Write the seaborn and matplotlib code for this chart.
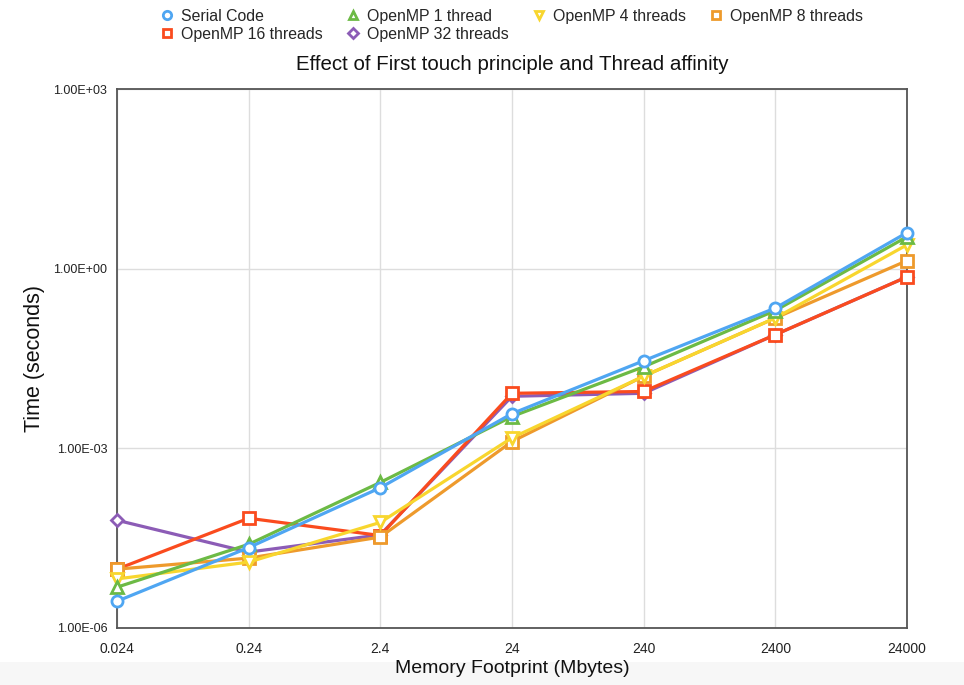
import numpy as np
import pandas as pd
import matplotlib
matplotlib.use("Agg")
import matplotlib.pyplot as plt
from matplotlib.lines import Line2D
from matplotlib.patches import Rectangle
from matplotlib.ticker import FixedLocator, FixedFormatter, NullLocator
import seaborn as sns

# Memory footprint (Mbytes) on the x axis
footprint = [0.024, 0.24, 2.4, 24, 240, 2400, 24000]
footprint_labels = ["0.024", "0.24", "2.4", "24", "240", "2400", "24000"]

# Run time (seconds) per configuration
serial_code = [2.8e-6, 2.2e-5, 2.2e-4, 3.8e-3, 0.029, 0.22, 4.0]
omp_1_thread = [4.8e-6, 2.5e-5, 2.7e-4, 3.4e-3, 0.023, 0.20, 3.4]
omp_4_threads = [6.6e-6, 1.26e-5, 5.8e-5, 1.5e-3, 0.016, 0.15, 2.5]
omp_8_threads = [9.6e-6, 1.47e-5, 3.3e-5, 1.3e-3, 0.016, 0.15, 1.36]
omp_16_threads = [9.6e-6, 6.8e-5, 3.5e-5, 8.3e-3, 8.9e-3, 0.079, 0.73]
omp_32_threads = [6.3e-5, 1.85e-5, 3.6e-5, 7.4e-3, 8.3e-3, 0.079, 0.73]

series_names = ["Serial Code", "OpenMP 1 thread", "OpenMP 4 threads",
                "OpenMP 8 threads", "OpenMP 16 threads", "OpenMP 32 threads"]
series_values = [serial_code, omp_1_thread, omp_4_threads,
                 omp_8_threads, omp_16_threads, omp_32_threads]
colors = ["#4FA6F2", "#6CBA45", "#F8D62E", "#EE9A2C", "#FA4B1E", "#8C5CB6"]
markers = ["o", "^", "v", "s", "s", "D"]
marker_sizes = [8, 8, 8, 8, 8, 6.5]

sns.set_theme(style="white")
plt.rcParams["font.family"] = ["Liberation Sans", "DejaVu Sans"]

fig = plt.figure(figsize=(9.64, 6.85), dpi=100)
W, H = 964, 685
# light strip along the bottom of the figure
fig.patches.append(Rectangle((0, 0), 1, 23 / H, transform=fig.transFigure,
                             facecolor="#F7F7F7", edgecolor="none", zorder=-5))

ax = fig.add_axes([117 / W, (H - 628) / H, (907 - 117) / W, (628 - 89) / H])
ax.set_facecolor("white")

rows = []
for name, vals in zip(series_names, series_values):
    for x, y in zip(footprint, vals):
        rows.append({"footprint": x, "time": y, "series": name})
df = pd.DataFrame(rows)

# draw the last series first so the earlier ones end up on top
for idx in reversed(range(len(series_names))):
    name = series_names[idx]
    sub = df[df["series"] == name]
    sns.lineplot(data=sub, x="footprint", y="time", ax=ax, color=colors[idx],
                 marker=markers[idx], markersize=marker_sizes[idx],
                 markerfacecolor="white", markeredgecolor=colors[idx],
                 markeredgewidth=2.0, linewidth=2.3, legend=False,
                 zorder=3 + (len(series_names) - idx), clip_on=False)

ax.set_xscale("log")
ax.set_yscale("log")
ax.set_xlim(footprint[0], footprint[-1])
ax.set_ylim(1e-6, 1e3)

ax.xaxis.set_major_locator(FixedLocator(footprint))
ax.xaxis.set_major_formatter(FixedFormatter(footprint_labels))
ax.xaxis.set_minor_locator(NullLocator())
yticks = [1e-6, 1e-3, 1e0, 1e3]
ax.yaxis.set_major_locator(FixedLocator(yticks))
ax.yaxis.set_major_formatter(FixedFormatter(["1.00E-06", "1.00E-03", "1.00E+00", "1.00E+03"]))
ax.yaxis.set_minor_locator(NullLocator())

ax.grid(True, which="major", color="#DDDDDD", linewidth=1.0)
ax.set_axisbelow(True)
for side in ["left", "right", "top", "bottom"]:
    ax.spines[side].set_visible(True)
    ax.spines[side].set_color("#555555")
    ax.spines[side].set_linewidth(1.3)
    ax.spines[side].set_zorder(2)

ax.tick_params(axis="x", labelsize=10, pad=10, length=0, colors="#222222")
ax.tick_params(axis="y", labelsize=9, pad=7, length=0, colors="#222222")

ax.set_xlabel("Memory Footprint (Mbytes)", fontsize=14, color="#111111", labelpad=3)
ax.set_ylabel("Time (seconds)", fontsize=15.5, color="#111111", labelpad=6)
ax.set_title("Effect of First touch principle and Thread affinity",
             fontsize=14.8, color="#111111", pad=14)

handles = [Line2D([], [], linestyle="none", marker=m, markersize=ms * 0.75,
                  markerfacecolor="white", markeredgecolor=c, markeredgewidth=2)
           for m, ms, c in zip(markers, marker_sizes, colors)]
# legend fills column by column; order entries so rows read left to right
order = [0, 4, 1, 5, 2, 3]
fig.legend([handles[i] for i in order], [series_names[i] for i in order],
           loc="upper left", bbox_to_anchor=(150 / W, 1.0),
           ncol=4, frameon=False, fontsize=11.4, handletextpad=0.4,
           columnspacing=1.4, labelspacing=0.2, borderaxespad=0.15,
           handlelength=1.0)

fig.savefig("out.png", dpi=100, facecolor="white")
